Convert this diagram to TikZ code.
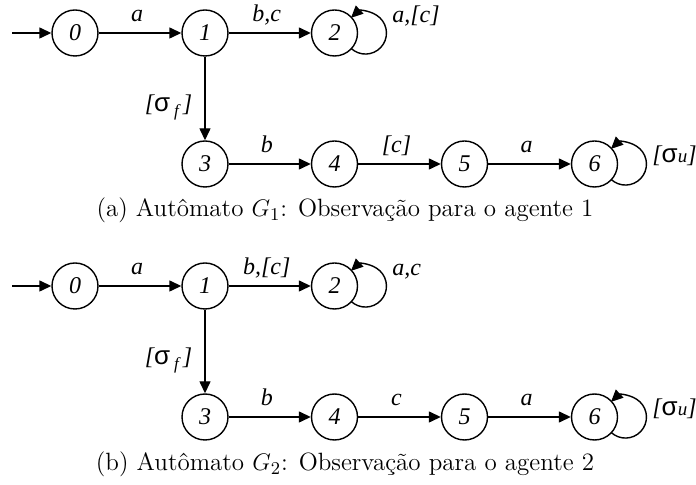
\documentclass[tikz,border=0pt]{standalone}
\usepackage{fontspec}
\newfontfamily\tms{Liberation Serif}[ItalicFont={Liberation Serif Italic}]
\newfontfamily\ars{Liberation Sans}
\usetikzlibrary{arrows.meta,calc}
\newcommand\selfloop[1]{\draw[arr] (#1.center) ++(16.5,15.3) arc[start angle=133.5,end angle=-133.5,radius=21];}
\newcommand\sigf{{\tms\itshape [}{\ars\upshape\fontsize{13}{13}\selectfont σ}\,{\tms\itshape\fontsize{8.5}{8.5}\selectfont\raisebox{-2.5pt}{f}}\,{\tms\itshape ]}}
\newcommand\sigu{{\tms\itshape [}{\ars\upshape\fontsize{13}{13}\selectfont σ}{\tms\itshape\fontsize{9.5}{9.5}\selectfont u}{\tms\itshape ]}}
\begin{document}
\begin{tikzpicture}[x=0.5pt,y=-0.5pt,
  st/.style={circle,draw,line width=0.7pt,minimum size=23pt,inner sep=0pt,font=\tms\itshape\fontsize{12}{12}\selectfont},
  arr/.style={line width=0.7pt,-{Triangle[length=6pt,width=5.5pt]}},
  lbl/.style={font=\tms\itshape\fontsize{12}{12}\selectfont,anchor=base,inner sep=0pt,midway,yshift=5.75pt,xshift=-1.5pt},
  vlbl/.style={font=\tms\itshape\fontsize{12}{12}\selectfont,anchor=base east,inner sep=0pt,midway,xshift=-6pt,yshift=-6.75pt},
  llbl/.style={font=\tms\itshape\fontsize{12}{12}\selectfont,anchor=base west,inner sep=0pt},
  captext/.style={anchor=base,inner sep=0pt,font=\fontsize{12.5}{14}\selectfont}]
\useasboundingbox (0,0) rectangle (696,485);
% ---------- (a) ----------
\node[st] (a0) at (75,33) {0};
\node[st] (a1) at (205,33) {1};
\node[st] (a2) at (334.5,33) {2};
\node[st] (a3) at (205,164) {3};
\node[st] (a4) at (334.5,164) {4};
\node[st] (a5) at (464.5,164) {5};
\node[st] (a6) at (594.5,164) {6};
\coordinate (ai) at (12,33);
\draw[arr] (ai) -- (a0);
\draw[arr] (a0) -- node[lbl]{a} (a1);
\draw[arr] (a1) -- node[lbl]{b,c} (a2);
\draw[arr] (a1) -- node[vlbl]{\sigf} (a3);
\draw[arr] (a3) -- node[lbl]{b} (a4);
\draw[arr] (a4) -- node[lbl]{[c]} (a5);
\draw[arr] (a5) -- node[lbl]{a} (a6);
\selfloop{a2}
\selfloop{a6}
\node[llbl] (la2) at ($(a2.center)+(57.5,-10)$) {a,[c]};
\node[llbl] (la6) at ($(a6.center)+(57.5,-1)$) {\sigu};
\node[captext] (capa) at (345,217) {(a) Autômato $G_1$: Observação para o agente 1};
% ---------- (b) ----------
\node[st] (b0) at (75,286) {0};
\node[st] (b1) at (205,286) {1};
\node[st] (b2) at (334.5,286) {2};
\node[st] (b3) at (205,417) {3};
\node[st] (b4) at (334.5,417) {4};
\node[st] (b5) at (464.5,417) {5};
\node[st] (b6) at (594.5,417) {6};
\coordinate (bi) at (12,286);
\draw[arr] (bi) -- (b0);
\draw[arr] (b0) -- node[lbl]{a} (b1);
\draw[arr] (b1) -- node[lbl]{b,[c]} (b2);
\draw[arr] (b1) -- node[vlbl]{\sigf} (b3);
\draw[arr] (b3) -- node[lbl]{b} (b4);
\draw[arr] (b4) -- node[lbl]{c} (b5);
\draw[arr] (b5) -- node[lbl]{a} (b6);
\selfloop{b2}
\selfloop{b6}
\node[llbl] (lb2) at ($(b2.center)+(57.5,-10)$) {a,c};
\node[llbl] (lb6) at ($(b6.center)+(57.5,-1)$) {\sigu};
\node[captext] (capb) at (345,471) {(b) Autômato $G_2$: Observação para o agente 2};
\end{tikzpicture}
\end{document}
